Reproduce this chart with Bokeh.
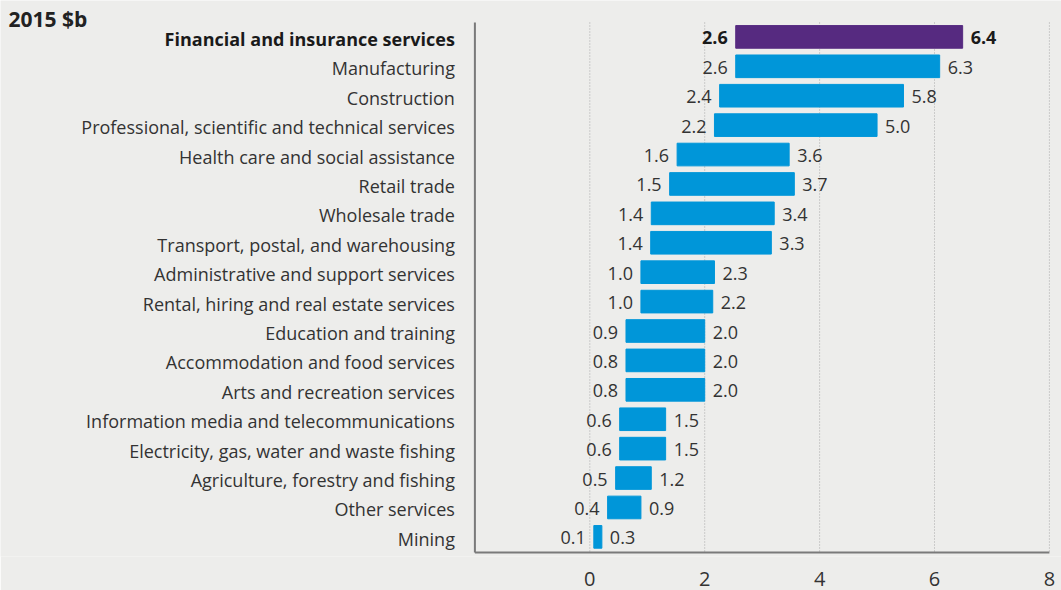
from bokeh.plotting import figure
from bokeh.models import Range1d, ColumnDataSource, FixedTicker, Label
from bokeh.core.properties import value
from bokeh.embed import file_html
from bokeh.resources import INLINE

categories = [
    "Financial and insurance services",
    "Manufacturing",
    "Construction",
    "Professional, scientific and technical services",
    "Health care and social assistance",
    "Retail trade",
    "Wholesale trade",
    "Transport, postal, and warehousing",
    "Administrative and support services",
    "Rental, hiring and real estate services",
    "Education and training",
    "Accommodation and food services",
    "Arts and recreation services",
    "Information media and telecommunications",
    "Electricity, gas, water and waste fishing",
    "Agriculture, forestry and fishing",
    "Other services",
    "Mining",
]
# printed labels
low_labels = [2.6, 2.6, 2.4, 2.2, 1.6, 1.5, 1.4, 1.4, 1.0, 1.0, 0.9, 0.8, 0.8, 0.6, 0.6, 0.5, 0.4, 0.1]
high_labels = [6.4, 6.3, 5.8, 5.0, 3.6, 3.7, 3.4, 3.3, 2.3, 2.2, 2.0, 2.0, 2.0, 1.5, 1.5, 1.2, 0.9, 0.3]
# bar extents as drawn in the picture
bar_start = [2.54, 2.54, 2.26, 2.17, 1.52, 1.39, 1.07, 1.06, 0.89, 0.89, 0.63, 0.63, 0.63, 0.52, 0.52, 0.45, 0.31, 0.07]
bar_end = [6.49, 6.09, 5.46, 5.00, 3.47, 3.56, 3.21, 3.16, 2.17, 2.14, 2.00, 2.00, 2.00, 1.32, 1.32, 1.07, 0.89, 0.21]
x_ticks = [0, 2, 4, 6, 8]
unit_label = "2015 $b"

W, H = 1061, 590
FRAME_H = 556
BG = "#EDEDEB"
BLUE = "#0096D9"
PURPLE = "#562A80"
FONT = "Open Sans"

# pixel geometry of the frame
PX_PER_UNIT = 57.45
X0_PX = 589.3
ROW_PX = 29.41
ROW0_PX = 36.4

def px_to_x(px):
    return (px - X0_PX) / PX_PER_UNIT

def px_to_y(py):
    return (py - ROW0_PX) / ROW_PX

x_range = Range1d(px_to_x(0), px_to_x(W))
y_range = Range1d(px_to_y(FRAME_H), px_to_y(0))

p = figure(width=W, height=H, x_range=x_range, y_range=y_range,
           output_backend="svg", toolbar_location=None,
           min_border_left=0, min_border_right=0, min_border_top=0,
           min_border_bottom=H - FRAME_H,
           background_fill_color=BG, border_fill_color=BG)
p.outline_line_color = None
p.grid.visible = False
p.yaxis.visible = False

xa = p.xaxis[0]
xa.ticker = FixedTicker(ticks=x_ticks)
xa.axis_line_color = None
xa.major_tick_line_color = None
xa.minor_tick_line_color = None
xa.major_label_text_font = FONT
xa.major_label_text_font_size = "20px"
xa.major_label_text_color = "#333333"
xa.major_label_standoff = 9

x_min, x_max = x_ticks[0] - 2, x_ticks[-1]
y_top = px_to_y(22)
y_bot = px_to_y(552)

# dotted grid lines
p.segment(x0=x_ticks, x1=x_ticks, y0=[y_top] * len(x_ticks), y1=[y_bot] * len(x_ticks),
          line_color="#A8A8A8", line_width=1, line_dash="1 2")

n = len(categories)
rows = list(range(n))
colors = [PURPLE] + [BLUE] * (n - 1)
weights = ["bold"] + ["normal"] * (n - 1)
label_colors = ["#1A1A1A"] + ["#333333"] * (n - 1)
src = ColumnDataSource(dict(
    y=rows, cat=categories, start=bar_start, end=bar_end,
    low_txt=[f"{v:.1f}" for v in low_labels],
    high_txt=[f"{v:.1f}" for v in high_labels],
    color=colors, weight=weights, lc=label_colors,
    axis_x=[x_min] * n,
))

p.hbar(y="y", left="start", right="end", height=0.77, color="color", source=src)

# value labels
p.text(x="start", y="y", text="low_txt", source=src, x_offset=-8, y_offset=1,
       text_align="right", text_baseline="middle", text_font=value(FONT),
       text_font_size="18px", text_font_style="weight", text_color="lc")
p.text(x="end", y="y", text="high_txt", source=src, x_offset=8, y_offset=1,
       text_align="left", text_baseline="middle", text_font=value(FONT),
       text_font_size="18px", text_font_style="weight", text_color="lc")

# category labels
p.text(x="axis_x", y="y", text="cat", source=src, x_offset=-20, y_offset=2,
       text_align="right", text_baseline="middle", text_font=value(FONT),
       text_font_size="18px", text_font_style="weight", text_color="lc")

# axis lines
p.segment(x0=[x_min], x1=[x_min], y0=[y_top], y1=[y_bot], line_color="#7A7A7A", line_width=2)
p.segment(x0=[x_min], x1=[x_max], y0=[y_bot], y1=[y_bot], line_color="#7A7A7A", line_width=2)

p.add_layout(Label(x=px_to_x(8), y=px_to_y(18), text=unit_label, text_font=FONT,
                   text_font_size="21px", text_font_style="bold", text_color="#222222",
                   text_baseline="middle", text_align="left"))

open("out.html", "w").write(file_html(p, INLINE))
